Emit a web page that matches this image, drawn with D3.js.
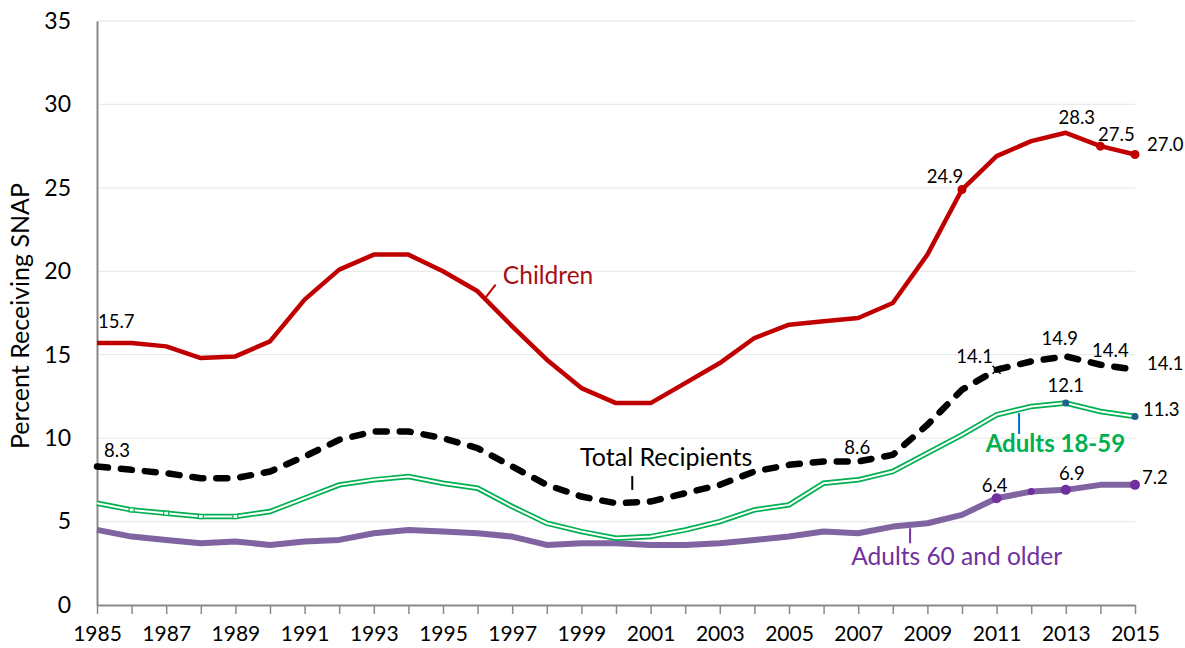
<!DOCTYPE html>
<html>
<head>
<meta charset="utf-8">
<script src="https://cdn.jsdelivr.net/npm/d3@7"></script>
<style>
  body { margin: 0; background: #fff; }
  text { font-family: Lato, "Open Sans", sans-serif; }
</style>
</head>
<body>
<div id="chartContainer"></div>
<script>
// years on the x axis
var years = d3.range(1985, 2016);
var yTicks = [0, 5, 10, 15, 20, 25, 30, 35];

// percent receiving SNAP
var children = [15.7, 15.7, 15.5, 14.8, 14.9, 15.8, 18.3, 20.1, 21.0, 21.0, 20.0, 18.8, 16.7, 14.7, 13.0, 12.1,
                12.1, 13.3, 14.5, 16.0, 16.8, 17.0, 17.2, 18.1, 21.0, 24.9, 26.9, 27.8, 28.3, 27.5, 27.0];
var total = [8.3, 8.1, 7.9, 7.6, 7.6, 8.0, 8.9, 9.9, 10.4, 10.4, 10.0, 9.4, 8.3, 7.2, 6.5, 6.1,
             6.2, 6.7, 7.2, 8.0, 8.4, 8.6, 8.6, 9.0, 10.8, 12.9, 14.1, 14.6, 14.9, 14.4, 14.1];
var adults1859 = [6.1, 5.7, 5.5, 5.3, 5.3, 5.6, 6.4, 7.2, 7.5, 7.7, 7.3, 7.0, 5.9, 4.9, 4.4, 4.0,
                  4.1, 4.5, 5.0, 5.7, 6.0, 7.3, 7.5, 8.0, 9.1, 10.2, 11.4, 11.9, 12.1, 11.6, 11.3];
var adults60 = [4.5, 4.1, 3.9, 3.7, 3.8, 3.6, 3.8, 3.9, 4.3, 4.5, 4.4, 4.3, 4.1, 3.6, 3.7, 3.7,
                3.6, 3.6, 3.7, 3.9, 4.1, 4.4, 4.3, 4.7, 4.9, 5.4, 6.4, 6.8, 6.9, 7.2, 7.2];

var W = 1185, H = 648;
var margin = {left: 97, right: 50, top: 21, bottom: 43};

var svg = d3.select("#chartContainer").append("svg")
  .attr("width", W).attr("height", H);

var x = d3.scaleLinear().domain([1985, 2015]).range([margin.left, W - margin.right]);
var y = d3.scaleLinear().domain([0, 35]).range([H - margin.bottom, margin.top]);

//gridlines
svg.append("g").selectAll("line")
  .data(yTicks.filter(function (d) { return d > 0; }))
  .enter().append("line")
  .attr("x1", x(1985)).attr("x2", x(2015))
  .attr("y1", function (d) { return y(d); }).attr("y2", function (d) { return y(d); })
  .attr("stroke", "#ebebeb").attr("stroke-width", 1.3);

//y axis: line and labels, no ticks
var yAxis = svg.append("g")
  .attr("transform", "translate(" + x(1985) + ",0)")
  .call(d3.axisLeft(y).tickValues(yTicks).tickSize(0).tickPadding(26));
yAxis.select(".domain").attr("stroke", "#898989").attr("stroke-width", 2);
yAxis.selectAll("text").style("font-size", "23px").attr("fill", "#000")
  .style("font-family", "Lato, sans-serif");

//x axis with a tick every year, a label every other year
var xAxis = svg.append("g")
  .attr("transform", "translate(0," + y(0) + ")")
  .call(d3.axisBottom(x).tickValues(years).tickSize(9).tickSizeOuter(0).tickPadding(12)
    .tickFormat(function (d) { return d % 2 === 1 ? String(d) : ""; }));
xAxis.select(".domain").attr("stroke", "#898989").attr("stroke-width", 2);
xAxis.selectAll(".tick line").attr("stroke", "#898989").attr("stroke-width", 1.5);
xAxis.selectAll("text").style("font-size", "21px").attr("fill", "#000")
  .style("font-family", "Lato, sans-serif");

//axis title
svg.append("text")
  .attr("transform", "translate(29," + 316 + ") rotate(-90)")
  .attr("text-anchor", "middle")
  .style("font-size", "25px")
  .text("Percent Receiving SNAP");

var line = d3.line()
  .x(function (d, i) { return x(years[i]); })
  .y(function (d) { return y(d); });

//purple: adults 60 and older
svg.append("path").datum(adults60)
  .attr("d", line).attr("fill", "none")
  .attr("stroke", "#8064a2").attr("stroke-width", 6).attr("stroke-linejoin", "round");

//green double line: adults 18-59
svg.append("path").datum(adults1859)
  .attr("d", line).attr("fill", "none")
  .attr("stroke", "#00b050").attr("stroke-width", 5.5);
svg.append("path").datum(adults1859)
  .attr("d", line).attr("fill", "none")
  .attr("stroke", "#fff").attr("stroke-width", 2);

//black dashed: total recipients
svg.append("path").datum(total)
  .attr("d", line).attr("fill", "none")
  .attr("stroke", "#000").attr("stroke-width", 6.5)
  .attr("stroke-dasharray", "11,13").attr("stroke-linecap", "round");

//red: children
svg.append("path").datum(children)
  .attr("d", line).attr("fill", "none")
  .attr("stroke", "#c00000").attr("stroke-width", 4.5).attr("stroke-linejoin", "round");

//markers
function dots(values, idxYears, r, color) {
  svg.append("g").selectAll("circle")
    .data(idxYears).enter().append("circle")
    .attr("cx", function (d) { return x(d); })
    .attr("cy", function (d) { return y(values[years.indexOf(d)]); })
    .attr("r", r).attr("fill", color);
}
dots(children, [2010, 2014, 2015], 4.5, "#c00000");
dots(adults1859, [2013, 2015], 3.5, "#1f5f8b");
dots(adults60, [2011, 2013, 2015], 5, "#7030a0");
dots(adults60, [2012], 3.5, "#7030a0");

//small hollow squares on the green line
svg.append("g").selectAll("rect")
  .data([1986, 1987, 1988, 1989]).enter().append("rect")
  .attr("x", function (d) { return x(d) - 2.5; })
  .attr("y", function (d) { return y(adults1859[years.indexOf(d)]) - 2; })
  .attr("width", 5).attr("height", 4)
  .attr("fill", "#fff").attr("stroke", "#00b050").attr("stroke-width", 1.2);

//x marker on total at 2011
var tx = x(2011), ty = y(total[years.indexOf(2011)]);
svg.append("path")
  .attr("d", "M" + (tx - 4) + "," + (ty - 4) + "L" + (tx + 4) + "," + (ty + 4) +
             "M" + (tx - 4) + "," + (ty + 4) + "L" + (tx + 4) + "," + (ty - 4))
  .attr("stroke", "#000").attr("stroke-width", 1.5);

//data labels: [series, year, dx, dy, anchor]
var seriesByName = {children: children, total: total, a1859: adults1859, a60: adults60};
var labels = [
  ["children", 1985, 1, -15, "start"],
  ["children", 2010, -17, -7, "middle"],
  ["children", 2013, 11, -9, "middle"],
  ["children", 2014, 16, -5, "middle"],
  ["children", 2015, 12, -3, "start"],
  ["total", 1985, 20, -10, "middle"],
  ["total", 2007, -1, -8, "middle"],
  ["total", 2011, -22, -7, "middle"],
  ["total", 2013, -6, -11, "middle"],
  ["total", 2014, 10, -8, "middle"],
  ["total", 2015, 12, 0, "start"],
  ["a1859", 2013, 0, -11, "middle"],
  ["a1859", 2015, 8, 0, "start"],
  ["a60", 2011, -2, -6, "middle"],
  ["a60", 2013, 6, -10, "middle"],
  ["a60", 2015, 7, -1, "start"]
];
svg.append("g").selectAll("text")
  .data(labels).enter().append("text")
  .attr("x", function (d) { return x(d[1]) + d[2]; })
  .attr("y", function (d) { return y(seriesByName[d[0]][years.indexOf(d[1])]) + d[3]; })
  .attr("text-anchor", function (d) { return d[4]; })
  .style("font-size", "18.5px")
  .text(function (d) { return d3.format(".1f")(seriesByName[d[0]][years.indexOf(d[1])]); });

//series names with their leader lines, placed in data units
var names = [
  {text: "Children", yr: 1996.73, v: 19.25, anchor: "start", color: "#a50f15", weight: "normal", size: 24.5,
   lead: [[1996.24, 18.45], [1996.52, 19.2]], leadColor: "#c00000"},
  {text: "Total Recipients", yr: 2001.45, v: 8.33, anchor: "middle", color: "#000", weight: "normal", size: 25,
   lead: [[2000.47, 7.73], [2000.47, 6.9]], leadColor: "#000"},
  {text: "Adults 18-59", yr: 2012.7, v: 9.17, anchor: "middle", color: "#00b050", weight: "bold", size: 24,
   lead: [[2011.65, 11.5], [2011.65, 10.25]], leadColor: "#0070c0"},
  {text: "Adults 60 and older", yr: 2006.8, v: 2.42, anchor: "start", color: "#7030a0", weight: "normal", size: 24.5,
   lead: [[2008.5, 4.6], [2008.5, 3.7]], leadColor: "#7030a0"}
];
names.forEach(function (n) {
  svg.append("line")
    .attr("x1", x(n.lead[0][0])).attr("y1", y(n.lead[0][1]))
    .attr("x2", x(n.lead[1][0])).attr("y2", y(n.lead[1][1]))
    .attr("stroke", n.leadColor).attr("stroke-width", 2);
  svg.append("text")
    .attr("x", x(n.yr)).attr("y", y(n.v))
    .attr("text-anchor", n.anchor)
    .attr("fill", n.color)
    .style("font-weight", n.weight)
    .style("font-size", n.size + "px")
    .text(n.text);
});
</script>
</body>
</html>
